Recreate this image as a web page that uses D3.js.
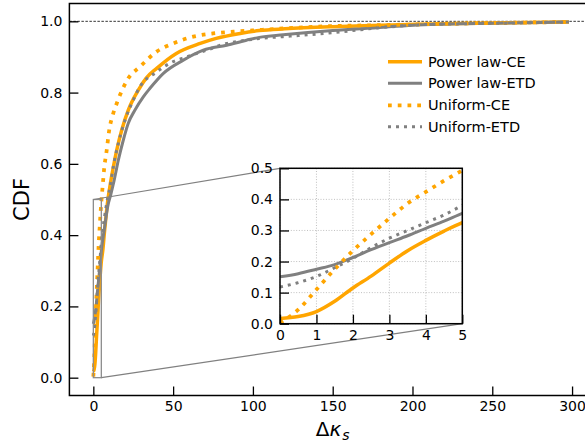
<!DOCTYPE html>
<html><head><meta charset="utf-8">
<script src="https://cdn.jsdelivr.net/npm/d3@7"></script>
<style>body{margin:0;background:#fff}svg{display:block}text{font-family:"DejaVu Sans",sans-serif;fill:#000}</style>
</head><body><svg id="c" width="585" height="446"></svg>
<script>
const seriesNames = ["Power law-CE","Power law-ETD","Uniform-CE","Uniform-ETD"];
const seriesColors = ["#FFA500","#808080","#FFA500","#808080"];

const powerCE_x = [0,0.5,1,1.5,2,2.5,3,3.5,4,4.5,5,6,7,8,9,10.5,12.5,14.7,17.8,21.9,28.2,33,39.7,52,67,77,92,104,120,150,180,203,230,260,298];
const powerCE_y = [0.017,0.023,0.039,0.072,0.115,0.153,0.195,0.235,0.268,0.298,0.325,0.36,0.41,0.455,0.495,0.54,0.59,0.639,0.695,0.751,0.807,0.84,0.868,0.91,0.938,0.952,0.966,0.974,0.979,0.985,0.989,0.992,0.994,0.996,0.998];

const powerETD_x = [0,0.5,1,1.5,2,2.5,3,3.5,4,4.5,5,7,9,11,13,15.7,18.8,21.9,26.1,31.3,35.5,43.9,56.4,68.9,83.6,96,104,119,150,182,203,230,260,298];
const powerETD_y = [0.151,0.161,0.175,0.19,0.213,0.238,0.261,0.283,0.307,0.33,0.355,0.42,0.48,0.515,0.553,0.611,0.667,0.714,0.751,0.788,0.812,0.854,0.891,0.919,0.933,0.947,0.955,0.962,0.974,0.983,0.99,0.993,0.995,0.998];

const uniformCE_x = [0,0.5,1,1.5,2,2.5,3,3.5,4,4.5,5,5.9,6.7,8.4,9.8,12.5,14.7,16.7,21.9,29.3,39.7,50,62.7,75,88,98,140,188,230,260,298];
const uniformCE_y = [0.003,0.045,0.11,0.175,0.235,0.288,0.339,0.387,0.424,0.46,0.493,0.54,0.583,0.639,0.69,0.742,0.77,0.793,0.84,0.873,0.915,0.938,0.957,0.966,0.971,0.974,0.985,0.99,0.994,0.996,0.998];

const uniformETD_x = [0,0.5,1,1.5,2,2.5,3,3.5,4,4.5,5,7,9,10.5,12.5,15.7,19.9,25,29.3,39.7,50,58.5,71,83.6,96,104,119,150,175,203,230,260,298];
const uniformETD_y = [0.118,0.132,0.152,0.18,0.21,0.245,0.275,0.3,0.325,0.35,0.38,0.45,0.505,0.536,0.592,0.658,0.723,0.779,0.817,0.858,0.887,0.9,0.919,0.938,0.947,0.952,0.957,0.968,0.98,0.99,0.993,0.995,0.998];

const xTicks = [0,50,100,150,200,250,300];
const yTicks = [0,0.2,0.4,0.6,0.8,1.0];
const insetXTicks = [0,1,2,3,4,5];
const insetYTicks = [0,0.1,0.2,0.3,0.4,0.5];

const styles = [
  {w:3.5, dash:null},
  {w:3, dash:null},
  {w:3.75, dash:"3.75,6"},
  {w:3, dash:"3,5"}
];
const series = [
  powerCE_x.map((x,i)=>[x,powerCE_y[i]]),
  powerETD_x.map((x,i)=>[x,powerETD_y[i]]),
  uniformCE_x.map((x,i)=>[x,uniformCE_y[i]]),
  uniformETD_x.map((x,i)=>[x,uniformETD_y[i]])
];

const svg = d3.select("#c");
const L=69.4, R=596, T=3.5, B=395.5;
const x = d3.scaleLinear().domain([-15,315]).range([L,R]);
const y = d3.scaleLinear().domain([-0.05,1.05]).range([B,T]);

const defs = svg.append("defs");
defs.append("clipPath").attr("id","mainclip").append("rect").attr("x",L).attr("y",T).attr("width",R-L).attr("height",B-T);

// dashed y=1 line
svg.append("line").attr("x1",L).attr("x2",R).attr("y1",y(1)).attr("y2",y(1))
  .attr("stroke","#000").attr("stroke-width",0.8).attr("stroke-dasharray","2.5,1.5");

const gMain = svg.append("g").attr("clip-path","url(#mainclip)");
series.forEach((s,i)=>{
  const line = d3.line().x(d=>x(d[0])).y(d=>y(d[1])).curve(d3.curveMonotoneX);
  gMain.append("path").attr("d",line(s)).attr("fill","none")
    .attr("stroke",seriesColors[i]).attr("stroke-width",styles[i].w)
    .attr("stroke-dasharray",styles[i].dash);
});

// main axes
const xAxis = d3.axisBottom(x).tickValues(xTicks).tickSizeInner(-9).tickSizeOuter(0).tickPadding(5.5).tickFormat(d3.format("d"));
const yAxis = d3.axisLeft(y).tickValues(yTicks).tickSizeInner(-9).tickSizeOuter(0).tickPadding(7).tickFormat(d3.format(".1f"));
const gx = svg.append("g").attr("transform",`translate(0,${B})`).call(xAxis);
const gy = svg.append("g").attr("transform",`translate(${L},0)`).call(yAxis);
[gx,gy].forEach(g=>{
  g.select(".domain").remove();
  g.selectAll(".tick line").attr("stroke","#000").attr("stroke-width",1.3);
  g.selectAll(".tick text").attr("font-size",14).attr("font-family","DejaVu Sans").attr("fill","#000");
});
svg.append("rect").attr("x",L).attr("y",T).attr("width",R-L).attr("height",B-T)
  .attr("fill","none").attr("stroke","#000").attr("stroke-width",1.5);

// axis labels
svg.append("text").attr("transform",`translate(29,${(T+B)/2}) rotate(-90)`)
  .attr("text-anchor","middle").attr("font-size",21).text("CDF");
// x label: Δκ_s built from three separate text pieces laid out side by side
const xlParts = [
  {t:"Δ", size:20, italic:false, dy:0},
  {t:"κ", size:20, italic:true, dy:0},
  {t:"s", size:14, italic:true, dy:4}
];
const xlG = svg.append("g");
const xlNodes = xlParts.map(p=>xlG.append("text").attr("font-size",p.size)
  .attr("font-style",p.italic?"italic":"normal").attr("y",436+p.dy).text(p.t));
const widths = xlNodes.map(n=>n.node().getComputedTextLength());
const totalW = widths.reduce((a,b)=>a+b,0)+1;
let cx = (L+R)/2 - totalW/2;
xlNodes.forEach((n,i)=>{ n.attr("x",cx); cx += widths[i] + (i===1?1:0); });

// inset
const iL=280, iR=462.3, iT=168.3, iB=323.7;
const ix = d3.scaleLinear().domain([0,5]).range([iL,iR]);
const iy = d3.scaleLinear().domain([0,0.5]).range([iB,iT]);

// zoom rectangle and connectors
svg.append("rect").attr("x",x(0)).attr("y",y(0.5)).attr("width",x(5)-x(0)).attr("height",y(0)-y(0.5))
  .attr("fill","none").attr("stroke","#8c8c8c").attr("stroke-width",1.3);
svg.append("line").attr("x1",x(0)).attr("y1",y(0.5)).attr("x2",iL).attr("y2",iT).attr("stroke","#808080").attr("stroke-width",1.2);
svg.append("line").attr("x1",x(5)).attr("y1",y(0)).attr("x2",iR).attr("y2",iB).attr("stroke","#808080").attr("stroke-width",1.2);

svg.append("rect").attr("x",iL).attr("y",iT).attr("width",iR-iL).attr("height",iB-iT).attr("fill","#fff");
defs.append("clipPath").attr("id","insetclip").append("rect").attr("x",iL).attr("y",iT).attr("width",iR-iL).attr("height",iB-iT);

const gi = svg.append("g");
// grid
insetXTicks.forEach(t=>{
  gi.append("line").attr("x1",ix(t)).attr("x2",ix(t)).attr("y1",iT).attr("y2",iB)
    .attr("stroke","#b0b0b0").attr("stroke-width",0.8).attr("stroke-dasharray","1,1.7");
});
insetYTicks.forEach(t=>{
  gi.append("line").attr("x1",iL).attr("x2",iR).attr("y1",iy(t)).attr("y2",iy(t))
    .attr("stroke","#b0b0b0").attr("stroke-width",0.8).attr("stroke-dasharray","1,1.7");
});
const gil = gi.append("g").attr("clip-path","url(#insetclip)");
series.forEach((s,i)=>{
  const line = d3.line().x(d=>ix(d[0])).y(d=>iy(d[1])).curve(d3.curveMonotoneX);
  gil.append("path").attr("d",line(s.filter(d=>d[0]<=7))).attr("fill","none")
    .attr("stroke",seriesColors[i]).attr("stroke-width",styles[i].w)
    .attr("stroke-dasharray",styles[i].dash);
});
const ixAxis = d3.axisBottom(ix).tickValues(insetXTicks).tickSizeInner(-9).tickSizeOuter(0).tickPadding(6.4).tickFormat(d3.format("d"));
const iyAxis = d3.axisLeft(iy).tickValues(insetYTicks).tickSizeInner(-9).tickSizeOuter(0).tickPadding(7).tickFormat(d3.format(".1f"));
const gix = gi.append("g").attr("transform",`translate(0,${iB})`).call(ixAxis);
const giy = gi.append("g").attr("transform",`translate(${iL},0)`).call(iyAxis);
[gix,giy].forEach(g=>{
  g.select(".domain").remove();
  g.selectAll(".tick line").attr("stroke","#000").attr("stroke-width",1.3);
  g.selectAll(".tick text").attr("font-size",14).attr("font-family","DejaVu Sans").attr("fill","#000");
});
gi.append("rect").attr("x",iL).attr("y",iT).attr("width",iR-iL).attr("height",iB-iT)
  .attr("fill","none").attr("stroke","#000").attr("stroke-width",1.5);

// legend
const legY = [61.7,83.3,105.3,126.7];
seriesNames.forEach((n,i)=>{
  svg.append("line").attr("x1",388).attr("x2",422).attr("y1",legY[i]).attr("y2",legY[i])
    .attr("stroke",seriesColors[i]).attr("stroke-width",styles[i].w).attr("stroke-dasharray",styles[i].dash);
  svg.append("text").attr("x",428).attr("y",legY[i]+5).attr("font-size",14.5).text(n);
});
</script></body></html>
